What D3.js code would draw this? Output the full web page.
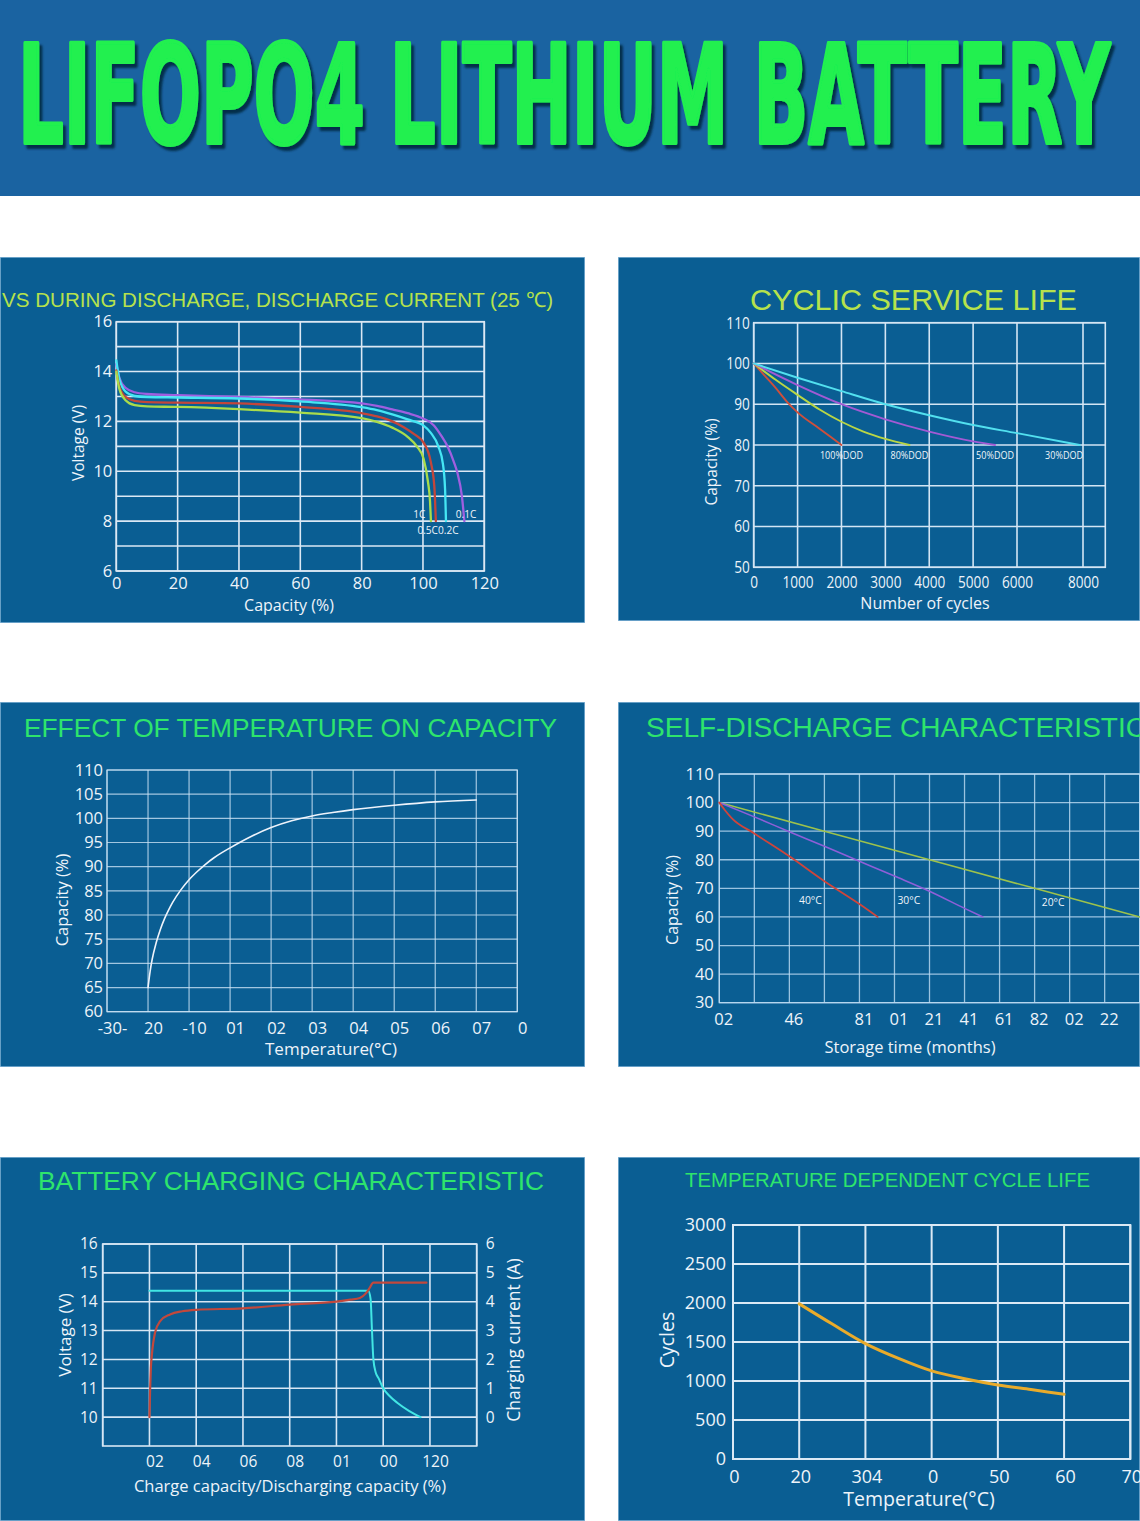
<!DOCTYPE html>
<html><head><meta charset="utf-8">
<script src="https://cdn.jsdelivr.net/npm/d3@7"></script>
<style>
html,body{margin:0;padding:0;background:#fff;}
svg{display:block;}
</style></head><body>
<svg id="c" width="1140" height="1521"></svg>
<script>
// ================= DATA =================
const bannerTitle = "LIFOPO4 LITHIUM BATTERY";
const panelTitles = [
  "VS DURING DISCHARGE, DISCHARGE CURRENT (25 ℃)",
  "CYCLIC SERVICE LIFE",
  "EFFECT OF TEMPERATURE ON CAPACITY",
  "SELF-DISCHARGE CHARACTERISTIC",
  "BATTERY CHARGING CHARACTERISTIC",
  "TEMPERATURE DEPENDENT CYCLE LIFE"
];

// Chart 1: discharge curves (capacity %, voltage V)
const dischargeCapTicks = [0, 20, 40, 60, 80, 100, 120];
const dischargeVoltGrid = [6, 7, 8, 9, 10, 11, 12, 13, 14, 15, 16];
const dischargeVoltTicks = [6, 8, 10, 12, 14, 16];
const discharge01C = [[0,14.3],[1,13.75],[3,13.35],[6,13.17],[10,13.1],[20,13.05],[40,12.98],[60,12.88],[80,12.72],[85,12.62],[90,12.48],[95,12.33],[100,12.12],[103.5,11.85],[106,11.42],[108,11.0],[110,10.4],[111.2,9.95],[112.7,9.0],[113.5,8.0]];
const discharge02C = [[0,14.45],[1,13.7],[3,13.2],[6,13.02],[10,12.98],[20,12.96],[40,12.92],[60,12.8],[80,12.57],[85,12.45],[90,12.28],[95,12.08],[100,11.85],[102.5,11.55],[105,11.0],[106.5,10.3],[107.2,9.3],[107.5,8.0]];
const discharge05C = [[0,14.05],[1,13.4],[3,12.98],[6,12.82],[10,12.77],[20,12.75],[40,12.72],[60,12.58],[80,12.33],[85,12.2],[90,12.0],[94,11.75],[97,11.5],[100.2,11.15],[102.5,10.4],[103.7,9.4],[104.2,8.0]];
const discharge1C  = [[0,14.0],[1,13.3],[3,12.85],[6,12.65],[10,12.6],[20,12.58],[40,12.49],[60,12.35],[80,12.13],[85,11.98],[90,11.75],[95,11.38],[98,11.0],[100.2,10.5],[101.6,9.6],[102.3,8.8],[102.6,8.0]];
const dischargeLabels = [["1C",100.8,8.3,"end"],["0.5C",104.9,7.65,"end"],["0.2C",104.9,7.65,"start"],["0.1C",110.7,8.3,"start"]];

// Chart 2: cyclic service life (cycles, capacity %)
const cycleTicks = [0, 1000, 2000, 3000, 4000, 5000, 6000, 8000];
const cycleCapGrid = [50, 60, 70, 80, 90, 100, 110];
const dod100 = [[0,100],[250,97],[500,94],[760,90.6],[1000,88],[1500,84],[2000,80]];
const dod80  = [[0,100],[500,96],[1000,92.3],[1500,88.7],[2000,85.7],[2500,83.3],[3000,81.5],[3550,80]];
const dod50  = [[0,100],[1000,94.7],[2000,90],[3000,86.3],[4000,83.3],[5000,80.9],[5500,80]];
const dod30  = [[0,100],[1000,96.5],[2000,93.2],[3000,90],[4000,87.3],[5000,84.9],[6000,82.9],[7900,80]];
const dodNames = ["100%DOD", "80%DOD", "50%DOD", "30%DOD"];

// Chart 3: temperature vs capacity
const tempGrid = [-30,-20,-10,0,10,20,30,40,50,60,70];
const tempTickLabels = ["-30-","20","-10","01","02","03","04","05","06","07","0"];
const tempCapGrid = [60,65,70,75,80,85,90,95,100,105,110];
const tempCapacity = [[-20,65],[-19.5,68.3],[-19,70.8],[-18,74.3],[-17,77.0],[-16,79.2],[-15,81.0],[-14,82.6],[-12,85.2],[-10,87.3],[-8,89.0],[-6,90.5],[-4,91.8],[-2,92.9],[0,93.9],[5,96.2],[10,98.1],[15,99.5],[20,100.5],[25,101.2],[30,101.8],[40,102.7],[50,103.4],[60,103.8]];

// Chart 4: self-discharge (storage time grid steps, capacity %)
const storageGrid = [0,1,2,3,4,5,6,7,8,9,10,11,12];
const storageTickIdx = [0,2,4,5,6,7,8,9,10,11];
const storageTickLabels = ["02","46","81","01","21","41","61","82","02","22"];
const selfCapGrid = [30,40,50,60,70,80,90,100,110];
const self40 = [[0,100],[0.15,97.5],[0.36,94.5],[1,89.2],[2,81.2],[3,72.5],[4,64.5],[4.52,60]];
const self30 = [[0,100],[1,95],[2,89.8],[3,84.7],[4,79.5],[5,74.3],[6,69],[7,63],[7.52,60]];
const self20 = [[0,100],[3,90],[6,80],[9,70],[12,60]];
const selfLabels = [["40°C",2.6,66],["30°C",5.41,66],["20°C",9.53,65.3]];

// Chart 5: charging characteristic (capacity %, voltage V / current A)
const chargeGrid = [0,20,40,60,80,100,120,140,160];
const chargeTickVals = [20,40,60,80,100,120,140];
const chargeTickLabels = ["02","04","06","08","01","00","120"];
const chargeVoltTicks = [10,11,12,13,14,15,16];
const chargeCurrTicks = [0,1,2,3,4,5,6];
const chargeVoltage = [[20,10],[20.3,11],[20.6,11.7],[21,12.13],[22.4,12.93],[24.6,13.33],[28.8,13.56],[34,13.67],[40,13.72],[60,13.77],[80,13.9],[100,14.0],[106,14.07],[110,14.13],[112.5,14.28],[114,14.45],[115.8,14.66],[138.5,14.66]];
const chargeCurrent = [[20,4.38],[113.6,4.38],[114.6,4.1],[115.2,3.0],[115.8,2.0],[116.8,1.55],[118,1.35],[120,1.0],[122.5,0.75],[126,0.5],[131,0.22],[136,0]];

// Chart 6: temperature dependent cycle life
const lifeTempTicks = [0,20,30,40,50,60,70];
const lifeTempLabels = ["0","20","304","0","50","60","70"];
const lifeCycleGrid = [0,500,1000,1500,2000,2500,3000];
const lifeCycles = [[20,1990],[25,1730],[30,1480],[35,1290],[40,1130],[45,1030],[50,950],[55,890],[60,830]];

// ================= DRAWING =================
const svg = d3.select("#c");
const defs = svg.append("defs");
const TXT = "#eef4fa";
const FONT = "'Open Sans','Noto Sans',sans-serif";
const TFONT = "'Liberation Sans',Arial,sans-serif";
const PANEL_BG = "#0a5e93";

defs.append("filter").attr("id","shadow").attr("x","-5%").attr("y","-10%").attr("width","112%").attr("height","130%")
  .append("feDropShadow").attr("dx",3).attr("dy",4).attr("stdDeviation",1.3)
  .attr("flood-color","#06253f").attr("flood-opacity",0.9);

svg.append("rect").attr("width",1140).attr("height",1521).attr("fill","#ffffff");
svg.append("rect").attr("x",0).attr("y",0).attr("width",1140).attr("height",196).attr("fill","#1a63a1");
svg.append("text").attr("x",18).attr("y",143)
  .attr("font-family","'Liberation Sans Narrow','DejaVu Sans Condensed','Liberation Sans',sans-serif")
  .attr("font-weight","bold").attr("font-size",138)
  .attr("textLength",1092).attr("lengthAdjust","spacingAndGlyphs")
  .attr("fill","#20f050").attr("stroke","#20f050").attr("stroke-width",4).attr("stroke-linejoin","round")
  .attr("filter","url(#shadow)").text(bannerTitle);

function makePanel(id, p){
  defs.append("clipPath").attr("id",id).append("rect").attr("x",p.x).attr("y",p.y).attr("width",p.w).attr("height",p.h);
  const g = svg.append("g").attr("clip-path",`url(#${id})`);
  g.append("rect").attr("x",p.x).attr("y",p.y).attr("width",p.w).attr("height",p.h)
    .attr("fill",PANEL_BG).attr("stroke","#86b6d8").attr("stroke-width",1.5);
  return g;
}
function title(g, txt, x, y, size, len, color, anchor){
  g.append("text").attr("x",x).attr("y",y).attr("font-family",TFONT).attr("font-size",size)
    .attr("fill",color).attr("text-anchor",anchor||"start")
    .attr("textLength",len).attr("lengthAdjust","spacingAndGlyphs").text(txt);
}
function drawGrid(g, b, x, xVals, y, yVals, color, w){
  const gg = g.append("g").attr("stroke",color).attr("stroke-width",w);
  gg.selectAll("line.v").data(xVals).join("line").attr("class","v")
    .attr("x1",d=>x(d)).attr("x2",d=>x(d)).attr("y1",b.top).attr("y2",b.bottom);
  gg.selectAll("line.h").data(yVals).join("line").attr("class","h")
    .attr("x1",b.left).attr("x2",b.right).attr("y1",d=>y(d)).attr("y2",d=>y(d));
  gg.append("rect").attr("x",b.left).attr("y",b.top).attr("width",b.right-b.left).attr("height",b.bottom-b.top).attr("fill","none");
}
function styleAxis(a, size, family){
  a.select(".domain").remove();
  a.attr("font-family",family||FONT).attr("font-size",size);
  a.selectAll("text").attr("fill",TXT);
  return a;
}
function yAxisL(g, y, vals, xPos, pad, size, fmt){
  const a = g.append("g").attr("transform",`translate(${xPos},0)`)
    .call(d3.axisLeft(y).tickValues(vals).tickSize(0).tickPadding(pad).tickFormat(fmt||d3.format("d")));
  return styleAxis(a, size);
}
function yAxisR(g, y, vals, xPos, pad, size){
  const a = g.append("g").attr("transform",`translate(${xPos},0)`)
    .call(d3.axisRight(y).tickValues(vals).tickSize(0).tickPadding(pad).tickFormat(d3.format("d")));
  return styleAxis(a, size);
}
function xAxisB(g, x, vals, yPos, pad, size, fmt, dx){
  const a = g.append("g").attr("transform",`translate(${dx||0},${yPos})`)
    .call(d3.axisBottom(x).tickValues(vals).tickSize(0).tickPadding(pad).tickFormat(fmt||d3.format("d")));
  return styleAxis(a, size);
}
function condense(sel, f){
  sel.each(function(){
    const w = this.getComputedTextLength();
    d3.select(this).attr("textLength", w*f).attr("lengthAdjust","spacingAndGlyphs");
  });
}
function label(g, txt, x, y, size, opts){
  opts = opts || {};
  const t = g.append("text").attr("font-family",FONT).attr("font-size",size).attr("fill",TXT)
    .attr("text-anchor",opts.anchor||"middle").text(txt);
  if (opts.rotate) t.attr("transform",`translate(${x},${y}) rotate(-90)`).attr("dy","0.35em");
  else t.attr("x",x).attr("y",y);
  return t;
}
function drawLine(g, data, x, y, color, w, curve){
  g.append("path").datum(data).attr("fill","none").attr("stroke",color).attr("stroke-width",w)
    .attr("stroke-linejoin","round").attr("stroke-linecap","round")
    .attr("d", d3.line().x(d=>x(d[0])).y(d=>y(d[1])).curve(curve||d3.curveMonotoneX));
}

// ---------- Panel 1 ----------
(function(){
  const g = makePanel("p1",{x:0,y:257,w:585,h:366});
  const b = {left:116.3,right:484.3,top:321.7,bottom:571};
  const x = d3.scaleLinear().domain([0,120]).range([b.left,b.right]);
  const y = d3.scaleLinear().domain([6,16]).range([b.bottom,b.top]);
  drawGrid(g,b,x,dischargeCapTicks,y,dischargeVoltGrid,"#dbe8f4",1.6);
  const cols = ["#9f5fe0","#45e6f4","#c4463a","#a9dc4b"];
  [discharge01C,discharge02C,discharge05C,discharge1C].forEach((s,i)=>drawLine(g,s,x,y,cols[i],2.3));
  dischargeLabels.forEach(l=>{
    const t = label(g,l[0],x(l[1]),y(l[2]),11.5,{anchor:l[3]}).attr("dy","0.35em");
    condense(t,0.88);
  });
  yAxisL(g,y,dischargeVoltTicks,b.left,4,16.5);
  xAxisB(g,x,dischargeCapTicks,b.bottom,6.5,16.5);
  label(g,"Voltage (V)",79,443,15.5,{rotate:true});
  label(g,"Capacity (%)",289,611,16);
  title(g,panelTitles[0],2,307,21,551,"#b6e24c");
})();

// ---------- Panel 2 ----------
(function(){
  const g = makePanel("p2",{x:618,y:257,w:522,h:364});
  const b = {left:753.7,right:1105.3,top:322.7,bottom:567.3};
  const x = d3.scaleLinear().domain([0,6000,8000]).range([753.7,1017,1083]);
  const y = d3.scaleLinear().domain([50,110]).range([b.bottom,b.top]);
  drawGrid(g,b,x,cycleTicks,y,cycleCapGrid,"#d3e5f4",1.6);
  const series = [dod100,dod80,dod50,dod30];
  const cols = ["#cf4f3b","#bad645","#a25ad4","#52e0ef"];
  series.forEach((s,i)=>drawLine(g,s,x,y,cols[i],1.9));
  series.forEach((s,i)=>{
    const end = s[s.length-1];
    const t = label(g,dodNames[i],x(end[0]),y(end[1])+14,11,{});
    condense(t,0.82);
    const half = t.node().getComputedTextLength()/2;
    const cx = Math.min(x(end[0]), x(cycleTicks[cycleTicks.length-1]) - half);
    t.attr("x",cx);
  });
  const ay = yAxisL(g,y,cycleCapGrid,b.left,4,17);
  condense(ay.selectAll("text"),0.8);
  const ax = xAxisB(g,x,cycleTicks,b.bottom,9,17);
  condense(ax.selectAll("text"),0.8);
  label(g,"Capacity (%)",712,462,15.5,{rotate:true});
  label(g,"Number of cycles",925,609,16);
  title(g,panelTitles[1],913.5,310,30,327,"#b6e24c","middle");
})();

// ---------- Panel 3 ----------
(function(){
  const g = makePanel("p3",{x:0,y:702,w:585,h:365});
  const b = {left:107,right:517.3,top:770,bottom:1011.7};
  const x = d3.scaleLinear().domain([-30,70]).range([b.left,b.right]);
  const y = d3.scaleLinear().domain([60,110]).range([b.bottom,b.top]);
  drawGrid(g,b,x,tempGrid,y,tempCapGrid,"rgba(205,228,246,0.78)",1.2);
  drawLine(g,tempCapacity,x,y,"#eef3fb",1.6);
  yAxisL(g,y,tempCapGrid,b.left,4,16.5);
  xAxisB(g,x,tempGrid,b.bottom,10.5,16.5,(d,i)=>tempTickLabels[i],5);
  label(g,"Capacity (%)",62,900,16.5,{rotate:true});
  label(g,"Temperature(°C)",331,1055,17);
  title(g,panelTitles[2],24,737,26,533,"#2ee46c");
})();

// ---------- Panel 4 ----------
(function(){
  const g = makePanel("p4",{x:618,y:702,w:522,h:365});
  const b = {left:719.3,right:1139.7,top:774,bottom:1002.7};
  const x = d3.scaleLinear().domain([0,12]).range([b.left,b.right]);
  const y = d3.scaleLinear().domain([30,110]).range([b.bottom,b.top]);
  drawGrid(g,b,x,storageGrid,y,selfCapGrid,"rgba(190,220,244,0.8)",1.3);
  drawLine(g,self20,x,y,"#9dc24c",1.6,d3.curveLinear);
  drawLine(g,self30,x,y,"#8e5fd8",1.6,d3.curveMonotoneX);
  drawLine(g,self40,x,y,"#cf453b",1.8,d3.curveMonotoneX);
  selfLabels.forEach(l=>{
    const t = label(g,l[0],x(l[1]),y(l[2]),11.5,{}).attr("dy","0.35em");
    condense(t,0.9);
  });
  yAxisL(g,y,selfCapGrid,b.left,5.5,16.5);
  xAxisB(g,x,storageTickIdx,b.bottom,11,16.5,(d,i)=>storageTickLabels[i],4);
  label(g,"Capacity (%)",672,900,16,{rotate:true});
  label(g,"Storage time (months)",910,1053,16.5);
  title(g,panelTitles[3],646,737,27,500,"#2ee46c");
})();

// ---------- Panel 5 ----------
(function(){
  const g = makePanel("p5",{x:0,y:1157,w:585,h:364});
  const b = {left:102.7,right:476.7,top:1244,bottom:1446};
  const x = d3.scaleLinear().domain([0,160]).range([b.left,b.right]);
  const y = d3.scaleLinear().domain([9,16]).range([b.bottom,b.top]);
  const y2 = d3.scaleLinear().domain([-1,6]).range([b.bottom,b.top]);
  drawGrid(g,b,x,chargeGrid,y,chargeVoltTicks,"#d6e6f4",1.6);
  drawLine(g,chargeCurrent,x,y2,"#42e6e4",2.0);
  drawLine(g,chargeVoltage,x,y,"#c2483c",2.2);
  yAxisL(g,y,chargeVoltTicks,b.left,5,15.5);
  yAxisR(g,y2,chargeCurrTicks,b.right,9,15.5);
  xAxisB(g,x,chargeTickVals,b.bottom,9.5,15.5,(d,i)=>chargeTickLabels[i],5);
  label(g,"Voltage (V)",65,1335,17,{rotate:true});
  label(g,"Charging current  (A)",514,1340,17.5,{rotate:true});
  label(g,"Charge capacity/Discharging capacity (%)",290,1492,16.5);
  title(g,panelTitles[4],38,1190,25.5,506,"#2ee46c");
})();

// ---------- Panel 6 ----------
(function(){
  const g = makePanel("p6",{x:618,y:1157,w:522,h:364});
  const b = {left:733,right:1130.3,top:1225,bottom:1459};
  const x = d3.scaleLinear().domain([0,20,70]).range([733,799.2,1130.3]);
  const y = d3.scaleLinear().domain([0,3000]).range([b.bottom,b.top]);
  drawGrid(g,b,x,lifeTempTicks,y,lifeCycleGrid,"#dbe9f5",2);
  drawLine(g,lifeCycles,x,y,"#e9ab2b",3);
  yAxisL(g,y,lifeCycleGrid,b.left,7,18);
  xAxisB(g,x,lifeTempTicks,b.bottom,11,18,(d,i)=>lifeTempLabels[i],1);
  label(g,"Cycles",667,1340,19.5,{rotate:true});
  label(g,"Temperature(°C)",919,1506,19.5);
  title(g,panelTitles[5],685,1187,21,405,"#2ee46c");
})();
</script>
</body></html>
